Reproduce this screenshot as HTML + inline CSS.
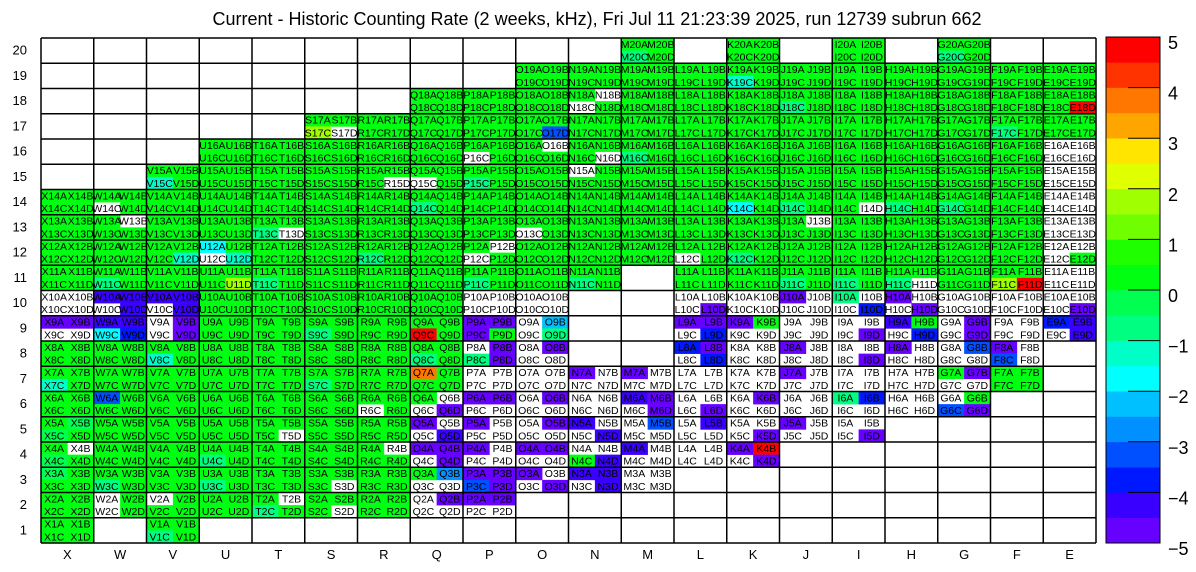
<!DOCTYPE html>
<html><head><meta charset="utf-8">
<style>
html,body{margin:0;padding:0;background:#fff;}
svg{display:block;font-family:"Liberation Sans",Arial,sans-serif;}
</style></head>
<body>
<svg id="chart" width="1196" height="572" viewBox="0 0 1196 572" xmlns="http://www.w3.org/2000/svg">
<text x="597" y="25" font-size="18" text-anchor="middle">Current - Historic Counting Rate (2 weeks, kHz), Fri Jul 11 21:23:39 2025, run 12739 subrun 662</text>
<g id="cells"></g>
<g id="grid"></g>
<g id="labels"></g>
<g id="axes"></g>
<g id="cbar"></g>
</svg>
<script>
const cols = ["X","W","V","U","T","S","R","Q","P","O","N","M","L","K","J","I","H","G","F","E"];
const rows = [20,19,18,17,16,15,14,13,12,11,10,9,8,7,6,5,4,3,2,1];
const rowsPresent = {
 20:"M K I G",
 19:"O N M L K J I H G F E",
 18:"Q P O N M L K J I H G F E",
 17:"S R Q P O N M L K J I H G F E",
 16:"U T S R Q P O N M L K J I H G F E",
 15:"V U T S R Q P O N M L K J I H G F E",
 14:"X W V U T S R Q P O N M L K J I H G F E",
 13:"X W V U T S R Q P O N M L K J I H G F E",
 12:"X W V U T S R Q P O N M L K J I H G F E",
 11:"X W V U T S R Q P O N L K J I H G F E",
 10:"X W V U T S R Q P O L K J I H G F E",
 9:"X W V U T S R Q P O L K J I H G F E",
 8:"X W V U T S R Q P O L K J I H G F",
 7:"X W V U T S R Q P O N M L K J I H G F",
 6:"X W V U T S R Q P O N M L K J I H G",
 5:"X W V U T S R Q P O N M L K J I",
 4:"X W V U T S R Q P O N M L K",
 3:"X W V U T S R Q P O N M",
 2:"X W V U T S R Q P",
 1:"X V"
};
const defaultValue = 0.3;
const whiteCells = ("S17D N18B N18C O16B P16C N16D N15A Q15C R15D W14C I14D E14A E14B E14C E14D E15A E15B E15C E15D E16A E16B E16C E16D "+
"W13B T13D O13C J13B E13A E13B E13C E13D U12C P12B P12C L12C E12A E12B E12C H11D E11A E11B E11C E11D "+
"X10A X10B X10C X10D W10C V10C P10A P10B P10C P10D O10A O10B O10C O10D L10A L10B L10C K10A K10B K10C K10D J10B J10C J10D I10B I10C H10B H10C G10A G10B G10C G10D F10A F10B F10C F10D E10A E10B E10C "+
"X9C X9D V9A V9C O9A O9C L9C K9C K9D J9A J9B J9C J9D I9A I9B I9C H9C G9A G9C F9A F9B F9C F9D E9C "+
"P8A O8A O8C O8D L8C K8A K8B K8C K8D J8B J8C J8D I8A I8B I8C H8B H8C H8D G8A G8C G8D F8B F8D "+
"P7A P7B P7C P7D O7A O7B O7C O7D N7B N7C N7D M7B M7C M7D L7A L7B L7C L7D K7A K7B K7C K7D J7B J7C J7D I7A I7B I7C I7D H7A H7B H7C H7D G7C G7D "+
"R6C Q6B Q6C P6C P6D O6A O6C O6D N6A N6B N6C N6D M6C L6A L6B L6C K6A K6C K6D J6A J6B J6C J6D I6C I6D H6A H6B H6C H6D G6A "+
"T5D Q5B Q5C P5B P5C P5D O5A O5C O5D N5B N5C M5A M5C M5D L5A L5C L5D K5A K5B K5C J5B J5C J5D I5A I5B I5C "+
"X4B R4B Q4C P4B P4C P4D O4C O4D N4A N4B M4B M4C M4D L4A L4B L4C L4D K4C "+
"S3D Q3C Q3D O3B O3C N3C M3A M3B M3C M3D "+
"W2A W2C V2A T2B S2D Q2A Q2C Q2D P2C P2D").split(" ");
const valueNames = ["X9A","X9B","W10A","W10B","W10D","V10A","V10B","V10D","V9B","V9D","W9A","W9B","W9D","W9C",
"P9A","P9B","P9C","L10D","L9A","L9B","L9D","K9A","J10A","H10A","H10D","I10D","H9A","H9D","G9B","G9D","E9A","E9B","E9D","E10D","I9D",
"P8B","P8D","O8B","L8A","L8B","L8D","J8A","I8D","H8A","G8B","F8A","F8C",
"N7A","M7A","J7A","G7B","Q7A",
"W6A","Q6D","P6A","P6B","O6B","M6A","M6B","M6D","L6D","K6B","I6A","I6B","G6C","G6D",
"Q5A","Q5D","P5A","O5B","N5A","N5D","M5B","L5B","K5D","J5A","I5D",
"Q4A","Q4B","Q4D","P4A","O4A","O4B","N4D","M4A","K4A","K4B","K4D",
"Q3B","P3A","P3B","P3C","P3D","O3A","O3D","N3A","N3B","N3D",
"Q2B","P2A","P2B",
"Q9C","O9B","O9D","Q8C","P8C","F11D","F11C","E18D","S17C","U11D","O17D","U12A","U12D","V12D","K14C","X7C","V8C","S7C","S9C",
"T13C","T11C","R12C","W11C","V15C","K19C","J18C","M16C","Q14C","P15C","P11C","N11C","H11C","J11C","I11C","I10A","M20C","G20C",
"K12C","F17C","J14C","H14C","G14C","U4C","U3C","W3C","V1C","T2C","X5B","X5C","X3A","X4C"];
const valueNums = [-4.8,-4.8,-4.2,-4.2,-4.2,-4.2,-4.2,-4.2,-4.8,-4.8,-4.2,-4.2,-3.8,-1.8,
-4.8,-4.8,-4.8,-4.8,-4.8,-4.8,-3.8,-4.8,-4.8,-4.8,-4.8,-3.8,-4.2,-3.8,-4.8,-4.8,-3.8,-4.2,-4.2,-4.8,-4.8,
-4.8,-4.8,-4.8,-3.8,-4.8,-3.8,-4.8,-4.8,-4.8,-3.2,-4.8,-3.2,
-4.8,-4.8,-4.8,-4.8,3.8,
-3.2,-4.8,-4.8,-4.8,-4.8,-4.2,-4.8,-4.8,-4.8,-4.8,-0.7,-3.8,-3.4,-4.8,
-4.8,-4.2,-4.8,-4.8,-4.2,-4.2,-3.2,-4.2,-4.8,-4.8,-4.8,
-4.8,-4.8,-4.8,-4.8,-4.8,-4.8,-4.2,-4.2,-4.8,4.8,-4.8,
-2.7,-4.8,-4.8,-3.2,-4.8,-4.8,-4.8,-4.2,-4.2,-4.2,
-4.8,-4.8,-4.8,
4.8,-2.3,-0.7,-0.7,-0.7,4.8,1.7,4.8,1.7,1.7,-3.2,-1.8,-1.2,-1.2,-1.8,-1.2,-1.2,-0.7,-0.7,
-0.7,-0.7,-0.7,-0.7,-1.2,-1.2,-0.7,-0.7,-0.7,-0.7,-0.7,-0.7,-0.7,-0.7,-0.7,-0.7,-0.7,-0.7,
-0.7,-0.7,-0.7,-0.7,-0.7,-0.7,-0.7,-0.7,-0.7,-0.7,-0.3,-0.3,-0.3,-0.3];
const cbTicks = [5,4,3,2,1,0,-1,-2,-3,-4,-5];
const palette = ["#6600ff","#3a00ff","#0018ff","#0050ff","#0090ff","#00c0ff","#00ffff","#00ffc8","#00ff80","#00ff50",
"#00ff10","#20ff00","#70ff00","#a0ff00","#e0ff00","#ffe500","#ffa500","#ff7700","#ff3300","#ff0000"];

const NS="http://www.w3.org/2000/svg";
const X0=41,X1=1096,Y0=38,Y1=543;
const cw=(X1-X0)/cols.length, rh=(Y1-Y0)/rows.length;
const xOf=c=>X0+cols.indexOf(c)*cw;
const yOf=r=>Y0+rows.indexOf(r)*rh;
const vmin=-5,vmax=5;
function color(v){let i=Math.floor((v-vmin)/(vmax-vmin)*palette.length);i=Math.max(0,Math.min(palette.length-1,i));return palette[i];}
function mk(tag,attrs,parent){const e=document.createElementNS(NS,tag);for(const k in attrs)e.setAttribute(k,attrs[k]);parent.appendChild(e);return e;}
const valMap={};valueNames.forEach((n,i)=>valMap[n]=valueNums[i]);
const whiteSet=new Set(whiteCells);
const gC=document.getElementById('cells'),gG=document.getElementById('grid'),gL=document.getElementById('labels'),gA=document.getElementById('axes'),gB=document.getElementById('cbar');
const subs=[["A",0,0],["B",1,0],["C",0,1],["D",1,1]];
rows.forEach(r=>{
  const present=rowsPresent[r].split(" ");
  present.forEach(c=>{
    subs.forEach(([s,dx,dy])=>{
      const name=c+r+s;
      const x=xOf(c)+dx*cw/2,y=yOf(r)+dy*rh/2;
      if(!whiteSet.has(name)){
        const v=(name in valMap)?valMap[name]:defaultValue;
        const rc=mk('rect',{x:x,y:y,width:cw/2+0.3,height:rh/2+0.3,fill:color(v)},gC);
        
        
      }
      const t=mk('text',{x:x+cw/4,y:y+rh/4+3.6,'font-size':10.5,'text-anchor':'middle'},gL);
      
      
      t.textContent=name;
    });
  });
});
for(let i=0;i<=cols.length;i++){const x=X0+i*cw;mk('line',{x1:x,y1:Y0,x2:x,y2:Y1,stroke:'#000','stroke-width':1.5},gG);}
for(let j=0;j<=rows.length;j++){const y=Y0+j*rh;mk('line',{x1:X0,y1:y,x2:X1,y2:y,stroke:'#000','stroke-width':1.5},gG);}
rows.forEach(r=>{const t=mk('text',{x:27,y:yOf(r)+rh/2+4,'font-size':13,'text-anchor':'end'},gA);
  
  
  t.textContent=r;});
cols.forEach(c=>{const t=mk('text',{x:xOf(c)+cw/2,y:559,'font-size':13,'text-anchor':'middle'},gA);
  
  
  t.textContent=c;});
const BX0=1106,BX1=1160,BY0=37,BY1=543;
const bh=(BY1-BY0)/palette.length;
palette.forEach((col,i)=>{const r=mk('rect',{x:BX0,y:BY1-(i+1)*bh,width:BX1-BX0,height:bh+0.3,fill:col},gB);
  
  });
mk('rect',{x:BX0,y:BY0,width:BX1-BX0,height:BY1-BY0,fill:'none',stroke:'#000','stroke-width':1},gB);
const cy=v=>BY1-(v-vmin)/(vmax-vmin)*(BY1-BY0);
cbTicks.forEach(v=>{const y=cy(v);
  mk('line',{x1:1128,y1:y,x2:BX1,y2:y,stroke:'#000','stroke-width':1},gB);
  const t=mk('text',{x:1168,y:y+12,'font-size':18},gB);
  
  
  t.textContent=v<0?'\u2212'+(-v):String(v);});
</script>
</body></html>
